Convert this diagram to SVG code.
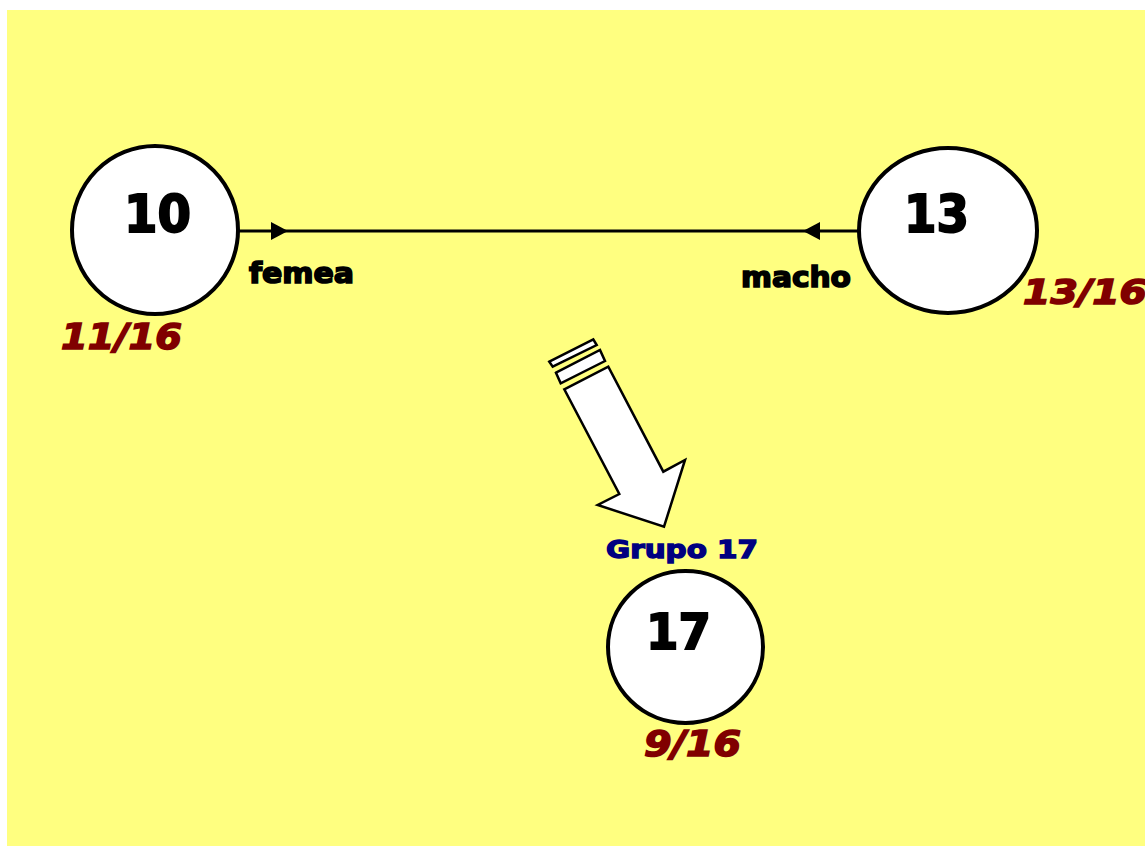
<svg xmlns="http://www.w3.org/2000/svg" width="1145" height="847" viewBox="0 0 1145 847">
<defs>
<style>
.node{fill:#ffffff;stroke:#000000;stroke-width:4}
.num{font-family:"DejaVu Sans","Liberation Sans",sans-serif;font-weight:bold;fill:#000000;stroke:#000000;stroke-width:2}
.lbl{font-family:"DejaVu Sans","Liberation Sans",sans-serif;font-weight:bold;fill:#000000;stroke:#000000;stroke-width:1.6}
.frac{font-family:"DejaVu Sans","Liberation Sans",sans-serif;font-weight:bold;font-style:italic;fill:#800000;stroke:#800000;stroke-width:1.6}
.grp{font-family:"DejaVu Sans","Liberation Sans",sans-serif;font-weight:bold;fill:#000080;stroke:#000080;stroke-width:1.4}
.edge{stroke:#000000;stroke-width:3;fill:none}
.bigarrow{fill:#ffffff;stroke:#000000;stroke-width:2.5;stroke-linejoin:miter}
</style>
</defs>
<rect x="7" y="10" width="1138" height="836" fill="#ffff80"/>
<g id="connectors">
<line class="edge" x1="238" y1="231" x2="858" y2="231"/>
<polygon points="271,222 288,231 271,240" fill="#000000"/>
<polygon points="820,222 803,231 820,240" fill="#000000"/>
<text class="lbl" x="249" y="283" font-size="28" textLength="105" lengthAdjust="spacingAndGlyphs">femea</text>
<text class="lbl" x="741" y="287" font-size="28" textLength="110" lengthAdjust="spacingAndGlyphs">macho</text>
</g>
<g id="node10">
<ellipse class="node" cx="155" cy="230" rx="83" ry="84"/>
<text class="num" x="124" y="232" font-size="51" textLength="67" lengthAdjust="spacingAndGlyphs">10</text>
<text class="frac" x="61" y="349" font-size="36" textLength="121" lengthAdjust="spacingAndGlyphs">11/16</text>
</g>
<g id="node13">
<ellipse class="node" cx="948" cy="230.5" rx="89" ry="82.5"/>
<text class="num" x="904" y="232" font-size="51" textLength="65" lengthAdjust="spacingAndGlyphs">13</text>
<text class="frac" x="1023" y="304" font-size="34" textLength="124" lengthAdjust="spacingAndGlyphs">13/16</text>
</g>
<g id="transition">
<polygon class="bigarrow" points="549.3,361.7 593.3,339.3 596.7,345 552.7,366.7"/>
<polygon class="bigarrow" points="556,372.7 600,350 605,361 560.7,383.3"/>
<polygon class="bigarrow" points="564.3,389.3 608.3,366.7 663.3,471.7 685,460 664,526.7 597.7,505 619.3,494"/>
</g>
<g id="node17">
<text class="grp" x="606" y="558" font-size="25" textLength="152" lengthAdjust="spacingAndGlyphs">Grupo 17</text>
<ellipse class="node" cx="685.5" cy="647" rx="77.5" ry="76"/>
<text class="num" x="646" y="649" font-size="50" textLength="65" lengthAdjust="spacingAndGlyphs">17</text>
<text class="frac" x="644" y="756" font-size="36" textLength="97" lengthAdjust="spacingAndGlyphs">9/16</text>
</g>
</svg>
